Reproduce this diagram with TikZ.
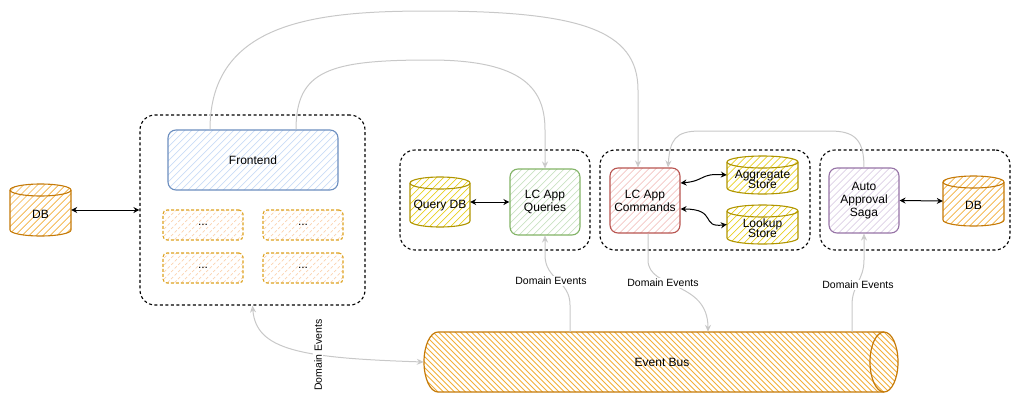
\documentclass[tikz,border=0pt]{standalone}
\usepackage{fontspec}
\setmainfont{Liberation Sans}
\usetikzlibrary{arrows.meta,calc}
\definecolor{gline}{HTML}{C8C8C8}
\definecolor{orS}{HTML}{C57A08}
\definecolor{orH}{HTML}{F2AE3A}
\definecolor{yeS}{HTML}{B09500}
\definecolor{yeH}{HTML}{E8D020}
\definecolor{blS}{HTML}{6C8EBF}
\definecolor{blH}{HTML}{C9DCF6}
\definecolor{grS}{HTML}{82B366}
\definecolor{grH}{HTML}{C9E2C2}
\definecolor{rdS}{HTML}{B85450}
\definecolor{rdH}{HTML}{F3C4C2}
\definecolor{puS}{HTML}{9673A6}
\definecolor{puH}{HTML}{DCCFE5}
\definecolor{smS}{HTML}{DDA21F}
\definecolor{smH}{HTML}{FBD3B0}
\tikzset{
  x=1pt, y=-1pt,
  hatch/.style={path picture={\foreach \k in {-70,...,70}
      \draw[#1, line width=0.7pt] ([xshift=\k*7pt]path picture bounding box.center)
        ++(-110pt,-110pt) -- ++(220pt,220pt);}},
  hatchb/.style={path picture={\foreach \k in {-90,...,90}
      \draw[#1, line width=0.8pt] ([xshift=\k*5.5pt]path picture bounding box.center)
        ++(-40pt,40pt) -- ++(80pt,-80pt);}},
  txt/.style={font=\fontsize{12}{13}\selectfont, align=center},
  lbl/.style={font=\fontsize{10.5}{11}\selectfont, fill=white, inner sep=1.5pt},
  appbox/.style n args={2}{draw=#1, line width=1.1pt, rounded corners=8pt, hatch=#2, txt},
  smallbox/.style={draw=smS, line width=1.1pt, dash pattern=on 3pt off 2pt, rounded corners=4pt,
    hatch=smH, minimum width=80pt, minimum height=30pt, txt},
  group/.style={draw=black, line width=1.1pt, dash pattern=on 3pt off 2.5pt,
    rounded corners=15pt},
  flow/.style={draw=gline, line width=1pt, -{Stealth[open,length=7pt,width=6pt]}},
  flow2/.style={draw=gline, line width=1pt, {Stealth[open,length=7pt,width=6pt]}-{Stealth[open,length=7pt,width=6pt]}},
  link/.style={draw=black, line width=1pt, {Stealth[open,length=6pt,width=6pt]}-{Stealth[open,length=6pt,width=6pt]}},
}
% vertical cylinder: name, cx, cy, w, h, stroke, hatch, text
\newcommand\vcyl[8]{%
  \path[draw=#6, line width=1.1pt, hatch=#7]
    ({#2-#4/2},{#3-#5/2+6}) -- ({#2-#4/2},{#3+#5/2-6})
    arc[start angle=180,end angle=360,x radius={#4*0.5pt},y radius=6pt]
    -- ({#2+#4/2},{#3-#5/2+6})
    arc[start angle=0,end angle=180,x radius={#4*0.5pt},y radius=6pt] -- cycle;
  \draw[#6, line width=1.1pt] ({#2-#4/2},{#3-#5/2+6})
    arc[start angle=180,end angle=360,x radius={#4*0.5pt},y radius=6pt];
  \node[txt, minimum width=#4pt, minimum height=#5pt, inner sep=0pt] (#1) at (#2,#3) {};
  \node[txt] at (#2,{#3+4}) {#8};
}
\begin{document}
\begin{tikzpicture}
\useasboundingbox (0,0) rectangle (1021,405);

% ---------- groups ----------
\node[group, minimum width=225pt, minimum height=190pt] (fbox) at (252.5,210) {};
\node[group, minimum width=190pt, minimum height=100pt] (qbox) at (495,200) {};
\node[group, minimum width=210pt, minimum height=100pt] (cbox) at (705,200) {};
\node[group, minimum width=190pt, minimum height=100pt] (sbox) at (915,200) {};

% ---------- frontend group ----------
\node[appbox={blS}{blH}, minimum width=170pt, minimum height=60pt] (fe) at (253,160) {Frontend};
\node[smallbox] (s1) at (203,225) {...};
\node[smallbox] (s2) at (303,225) {...};
\node[smallbox] (s3) at (203,268) {...};
\node[smallbox] (s4) at (303,268) {...};

% ---------- cylinders ----------
\vcyl{db1}{40.5}{210}{61}{52}{orS}{orH}{DB}
\vcyl{qdb}{440}{202}{60}{50}{yeS}{yeH}{Query DB}
\vcyl{agg}{762.5}{175}{71}{38}{yeS}{yeH}{Aggregate\\[-3pt]Store}
\vcyl{lk}{762.5}{224.5}{71}{39}{yeS}{yeH}{Lookup\\[-3pt]Store}
\vcyl{db2}{973.5}{201}{61}{50}{orS}{orH}{DB}

% ---------- app boxes ----------
\node[appbox={grS}{grH}, minimum width=70pt, minimum height=66pt] (q) at (545,202) {LC App\\Queries};
\node[appbox={rdS}{rdH}, minimum width=70pt, minimum height=65pt] (cmd) at (645,200.5) {LC App\\Commands};
\node[appbox={puS}{puH}, minimum width=70pt, minimum height=65pt] (saga) at (864,200.5) {Auto\\Approval\\Saga};

% ---------- event bus ----------
\path[draw=orS, line width=1.2pt, hatchb=orH]
  (438,332) arc[start angle=90,end angle=270,x radius=14pt,y radius=30pt]
  -- (884,392) arc[start angle=270,end angle=450,x radius=14pt,y radius=30pt] -- cycle;
\draw[orS, line width=1.2pt] (884,332) arc[start angle=90,end angle=270,x radius=14pt,y radius=30pt];
\node[minimum width=474pt, minimum height=60pt, inner sep=0pt] (bus) at (661,362) {};
\node[txt] at (662,362) {Event Bus};

% ---------- black links ----------
\draw[link] (db1.east) -- (fbox.west);
\draw[link] (qdb.east) -- (q.west);
\draw[link] ([yshift=17.5pt]cmd.east) .. controls (705,181) and (700,173) .. (agg.west);
\draw[link] ([yshift=-8.5pt]cmd.east) .. controls (718,209) and (700,228) .. (lk.west);
\draw[link] (saga.east) -- (db2.west);

% ---------- grey flows ----------
\draw[flow] ([xshift=-43pt]fe.north) .. controls (210,20) and (320,11) .. (430,11)
  .. controls (580,11) and (638,30) .. (638,90) -- ([xshift=-7pt]cmd.north);
\draw[flow] ([xshift=43pt]fe.north) .. controls (296,70) and (330,60) .. (430,60)
  .. controls (525,60) and (545,90) .. (545,130) -- (q.north);
\draw[flow] (saga.north) .. controls (864,140) and (855,131) .. (830,131) -- (700,131)
  .. controls (675,131) and (670,140) .. ([xshift=23pt]cmd.north);
\draw[flow] ([xshift=-91pt]bus.north) -- (570,305) .. controls (570,280) and (545,280) .. (545,255) -- (q.south);
\draw[flow] ([xshift=3pt]cmd.south) -- (648,260) .. controls (648,290) and (708,280) .. ([xshift=47pt]bus.north);
\draw[flow] ([xshift=191pt]bus.north) -- (852,305) .. controls (852,285) and (864,280) .. (864,260) -- (saga.south);
\draw[flow2] (fbox.south) .. controls (256,350) and (300,358) .. (bus.west);

% ---------- labels ----------
\node[lbl] (l1) at (551,281) {Domain Events};
\node[lbl] (l2) at (663,283) {Domain Events};
\node[lbl] (l3) at (858,285) {Domain Events};
\node[lbl, rotate=90] (l4) at (318,355) {Domain Events};
\end{tikzpicture}
\end{document}
